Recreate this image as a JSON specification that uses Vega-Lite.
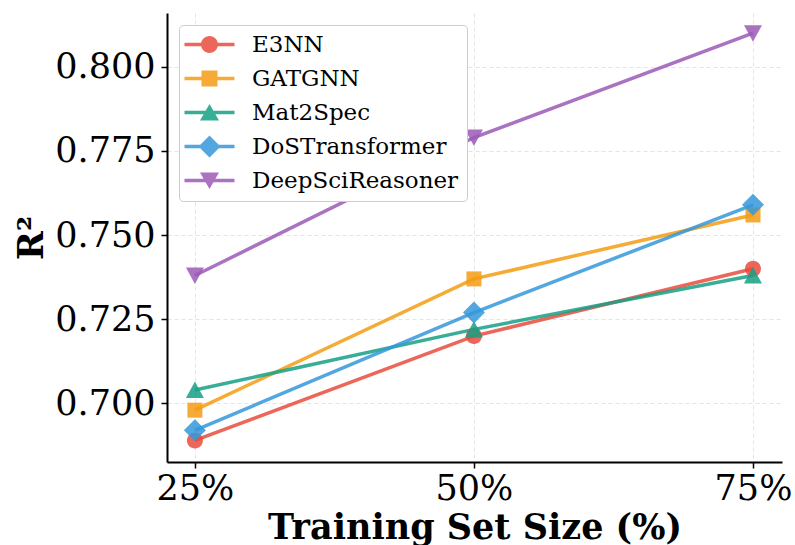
{
  "$schema": "https://vega.github.io/schema/vega-lite/v6.json",
  "width": 615,
  "height": 449,
  "autosize": {"type": "none"},
  "padding": {"left": 167, "top": 13, "right": 13, "bottom": 83},
  "background": "white",
  "config": {
    "font": "DejaVu Serif",
    "view": {"stroke": null},
    "axis": {
      "domainColor": "black",
      "domainWidth": 2,
      "tickColor": "black",
      "tickWidth": 1.5,
      "tickSize": 6,
      "labelFont": "DejaVu Serif",
      "labelFontSize": 35,
      "labelColor": "black",
      "titleFont": "DejaVu Serif",
      "titleFontSize": 35,
      "titleFontWeight": "bold",
      "titleColor": "black",
      "gridColor": "#dddddd",
      "gridDash": [4, 3],
      "gridWidth": 1,
      "gridOpacity": 0.8
    }
  },
  "data": {
    "values": [
      {"size": 25, "model": "E3NN", "r2": 0.689},
      {"size": 50, "model": "E3NN", "r2": 0.720},
      {"size": 75, "model": "E3NN", "r2": 0.740},
      {"size": 25, "model": "GATGNN", "r2": 0.698},
      {"size": 50, "model": "GATGNN", "r2": 0.737},
      {"size": 75, "model": "GATGNN", "r2": 0.756},
      {"size": 25, "model": "Mat2Spec", "r2": 0.704},
      {"size": 50, "model": "Mat2Spec", "r2": 0.722},
      {"size": 75, "model": "Mat2Spec", "r2": 0.738},
      {"size": 25, "model": "DoSTransformer", "r2": 0.692},
      {"size": 50, "model": "DoSTransformer", "r2": 0.727},
      {"size": 75, "model": "DoSTransformer", "r2": 0.759},
      {"size": 25, "model": "DeepSciReasoner", "r2": 0.738},
      {"size": 50, "model": "DeepSciReasoner", "r2": 0.779},
      {"size": 75, "model": "DeepSciReasoner", "r2": 0.810}
    ]
  },
  "encoding": {
    "x": {
      "field": "size",
      "type": "quantitative",
      "scale": {"domain": [22.5, 77.6], "nice": false, "zero": false},
      "axis": {
        "values": [25, 50, 75],
        "labelExpr": "datum.value + '%'",
        "title": "Training Set Size (%)",
        "labelPadding": 3,
        "titlePadding": 4,
        "labelFlush": false
      }
    },
    "y": {
      "field": "r2",
      "type": "quantitative",
      "scale": {"domain": [0.6826, 0.816], "nice": false, "zero": false},
      "axis": {
        "values": [0.7, 0.725, 0.75, 0.775, 0.8],
        "format": ".3f",
        "title": "R²",
        "labelPadding": 6,
        "titlePadding": 5
      }
    }
  },
  "layer": [
    {
      "mark": {"type": "line", "strokeWidth": 3.5, "opacity": 0.85},
      "encoding": {
        "color": {
          "field": "model",
          "type": "nominal",
          "scale": {
            "domain": ["E3NN", "GATGNN", "Mat2Spec", "DoSTransformer", "DeepSciReasoner"],
            "range": ["#e74c3c", "#f39c12", "#16a085", "#3498db", "#9b59b6"]
          },
          "legend": null
        }
      }
    },
    {
      "mark": {"type": "point", "filled": true, "opacity": 0.85, "strokeWidth": 0, "size": 4},
      "encoding": {
        "color": {
          "field": "model",
          "type": "nominal",
          "scale": {
            "domain": ["E3NN", "GATGNN", "Mat2Spec", "DoSTransformer", "DeepSciReasoner"],
            "range": ["#e74c3c", "#f39c12", "#16a085", "#3498db", "#9b59b6"]
          },
          "legend": null
        },
        "shape": {
          "field": "model",
          "type": "nominal",
          "scale": {
            "domain": ["E3NN", "GATGNN", "Mat2Spec", "DoSTransformer", "DeepSciReasoner"],
            "range": [
              "M8,0A8,8,0,1,1,-8,0A8,8,0,1,1,8,0Z",
              "M-7.5,-7.5H7.5V7.5H-7.5Z",
              "M0,-8.5L9,8L-9,8Z",
              "M0,-11L11,0L0,11L-11,0Z",
              "M-9,-8L9,-8L0,8.5Z"
            ]
          },
          "legend": null
        }
      }
    },
    {
      "mark": {"type": "point", "filled": true, "opacity": 0, "size": 4},
      "encoding": {
        "color": {
          "field": "model",
          "type": "nominal",
          "scale": {
            "domain": ["E3NN", "GATGNN", "Mat2Spec", "DoSTransformer", "DeepSciReasoner"],
            "range": ["#e74c3c", "#f39c12", "#16a085", "#3498db", "#9b59b6"]
          },
          "legend": {
            "title": null,
            "orient": "top-left",
            "offset": 12,
            "symbolSize": 4,
            "symbolOpacity": 0.85,
            "symbolStrokeWidth": 0,
            "labelFont": "DejaVu Serif",
            "labelFontSize": 23,
            "labelColor": "black",
            "labelOffset": 42,
            "labelLimit": 400,
            "rowPadding": 10,
            "padding": 8,
            "fillColor": "white",
            "strokeColor": "#cccccc",
            "cornerRadius": 4
          }
        },
        "shape": {
          "field": "model",
          "type": "nominal",
          "scale": {
            "domain": ["E3NN", "GATGNN", "Mat2Spec", "DoSTransformer", "DeepSciReasoner"],
            "range": [
              "M-14,-1.75H36V1.75H-14Z M19.5,0A8.5,8.5,0,1,1,2.5,0A8.5,8.5,0,1,1,19.5,0Z",
              "M-14,-1.75H36V1.75H-14Z M3,-8H19V8H3Z",
              "M-14,-1.75H36V1.75H-14Z M11,-8.5L20.5,8L1.5,8Z",
              "M-14,-1.75H36V1.75H-14Z M11,-11L22,0L11,11L0,0Z",
              "M-14,-1.75H36V1.75H-14Z M1.5,-8L20.5,-8L11,8.5Z"
            ]
          },
          "legend": {
            "title": null,
            "orient": "top-left",
            "offset": 12,
            "symbolSize": 4,
            "symbolOpacity": 0.85,
            "symbolStrokeWidth": 0,
            "labelFont": "DejaVu Serif",
            "labelFontSize": 23,
            "labelColor": "black",
            "labelOffset": 42,
            "labelLimit": 400,
            "rowPadding": 10,
            "padding": 8,
            "fillColor": "white",
            "strokeColor": "#cccccc",
            "cornerRadius": 4
          }
        }
      }
    }
  ],
  "resolve": {
    "scale": {"color": "independent", "shape": "independent"},
    "legend": {"color": "independent", "shape": "independent"}
  }
}
